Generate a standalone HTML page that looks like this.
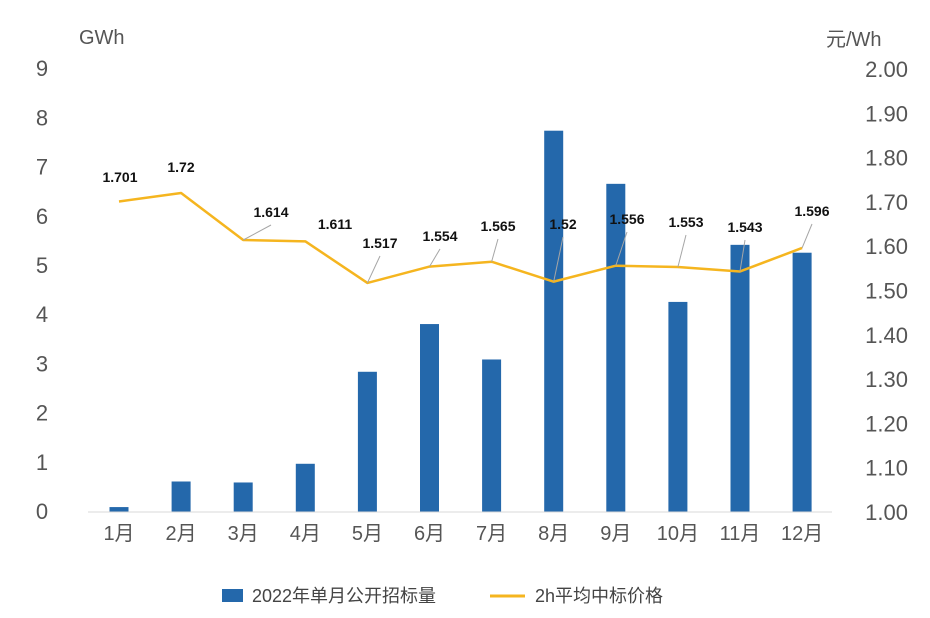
<!DOCTYPE html>
<html><head><meta charset="utf-8">
<style>
body{margin:0;background:#fff;}
svg{display:block;font-family:"Liberation Sans","Noto Sans CJK SC",sans-serif;}
</style></head>
<body>
<svg id="chart" width="930" height="618" viewBox="0 0 930 618" xmlns="http://www.w3.org/2000/svg">
<rect width="930" height="618" fill="#fff"/>
<text x="79" y="44" font-size="20" fill="#555">GWh</text>
<text x="826" y="46" font-size="20" fill="#555">元/Wh</text>
<g id="lt"></g>
<g id="rt"></g>
<g id="bars"></g>
<line x1="88" y1="512" x2="832" y2="512" stroke="#d9d9d9"/>
<g id="xt"></g>
<g id="line"></g>
<g id="lbl"></g>
<g>
<rect x="222" y="589" width="21" height="13" fill="#2468ab"/>
<text x="252" y="602" font-size="18" fill="#444">2022年单月公开招标量</text>
<line x1="490" y1="596" x2="525" y2="596" stroke="#f5b51f" stroke-width="3"/>
<text x="535" y="602" font-size="18" fill="#444">2h平均中标价格</text>
</g>
</svg>
<script>
const months=["1月","2月","3月","4月","5月","6月","7月","8月","9月","10月","11月","12月"];
const volume=[0.1,0.62,0.6,0.98,2.85,3.82,3.1,7.75,6.67,4.27,5.43,5.27];
const price=[1.701,1.72,1.614,1.611,1.517,1.554,1.565,1.52,1.556,1.553,1.543,1.596];
const priceText=["1.701","1.72","1.614","1.611","1.517","1.554","1.565","1.52","1.556","1.553","1.543","1.596"];
const leftTicks=[0,1,2,3,4,5,6,7,8,9];
const rightTicks=["1.00","1.10","1.20","1.30","1.40","1.50","1.60","1.70","1.80","1.90","2.00"];
const NS="http://www.w3.org/2000/svg";
const xOf=i=>119+i*62.1;
const yL=v=>512-v*49.2;
const yR=v=>512-(v-1)*443;
const labelPos=[[120,177],[181,167],[271,212],[335,224],[380,243],[440,236],[498,226],[563,224],[627,219],[686,222],[745,227],[812,211]];
const hasLeader=[false,false,true,false,true,true,true,true,true,true,true,true];
function mk(tag,attrs,parent){const e=document.createElementNS(NS,tag);for(const k in attrs)e.setAttribute(k,attrs[k]);parent.appendChild(e);return e;}
const lt=document.getElementById('lt'),rt=document.getElementById('rt'),bars=document.getElementById('bars'),xt=document.getElementById('xt'),line=document.getElementById('line'),lbl=document.getElementById('lbl');
leftTicks.forEach(v=>{const t=mk('text',{x:42,y:yL(v)+7,'font-size':22,fill:'#555','text-anchor':'middle'},lt);t.textContent=v;

});
rightTicks.forEach(v=>{const t=mk('text',{x:908,y:yR(parseFloat(v))+8,'font-size':22,fill:'#555','text-anchor':'end'},rt);t.textContent=v;

});
volume.forEach((v,i)=>{const r=mk('rect',{x:xOf(i)-9.5,y:yL(v),width:19,height:512-yL(v),fill:'#2468ab'},bars);

});
months.forEach((m,i)=>{const t=mk('text',{x:xOf(i),y:540,'font-size':20,fill:'#555','text-anchor':'middle'},xt);t.textContent=m;

});
const pts=price.map((p,i)=>xOf(i)+','+yR(p)).join(' ');
const pl=mk('polyline',{points:pts,fill:'none',stroke:'#f5b51f','stroke-width':2.5,'stroke-linejoin':'round'},line);


price.forEach((p,i)=>{const [lx,ly]=labelPos[i];
if(hasLeader[i]){const l=mk('line',{x1:xOf(i),y1:yR(p),x2:lx,y2:ly+13,stroke:'#a6a6a6','stroke-width':1},lbl);

}
const t=mk('text',{x:lx,y:ly+5,'font-size':14,'font-weight':'bold',fill:'#111','text-anchor':'middle'},lbl);t.textContent=priceText[i];

});
</script>
</body></html>
